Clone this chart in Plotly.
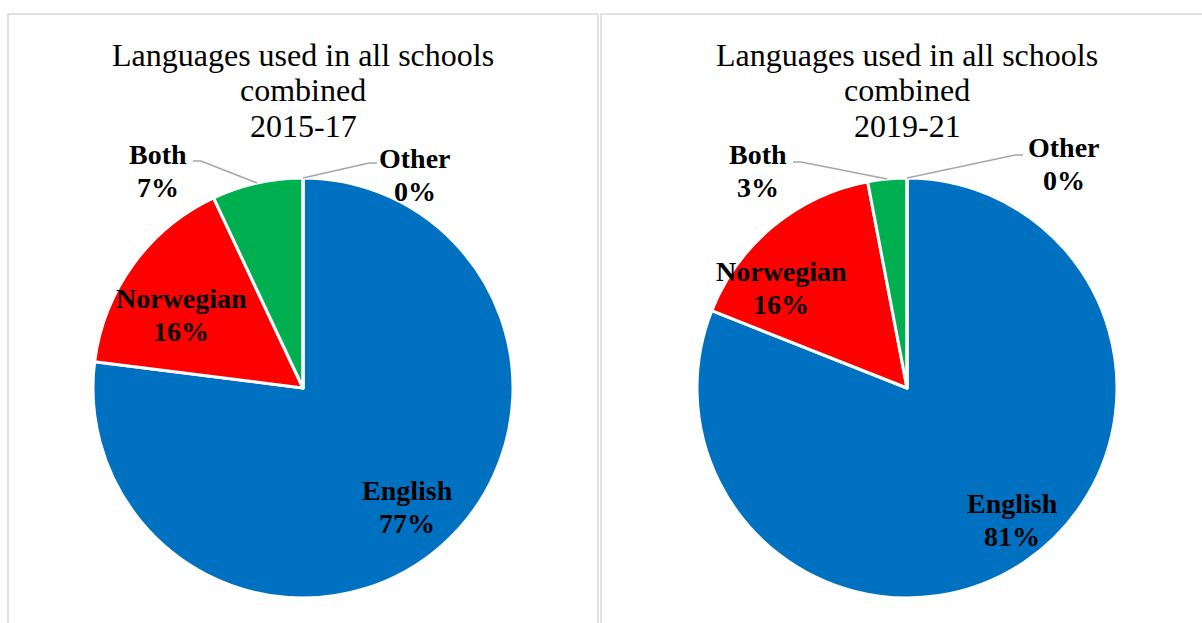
import math
import plotly.graph_objects as go

W, H = 1202, 623

# ---- data ----
labels = ["English", "Norwegian", "Both", "Other"]
values_2015 = [77, 16, 7, 0]
values_2019 = [81, 16, 3, 0]
colors = ["#0070C0", "#FF0000", "#00B050", "#A5A5A5"]
periods = ["2015-17", "2019-21"]
title_lines = ["Languages used in all schools", "combined"]


def px(x, y):
    return x / W, 1 - y / H


SERIF = "Liberation Serif, Times New Roman, serif"

# panel geometry (pixels)
panels = [
    dict(cx=303, cy=388, r=210, frame=(8, 598), tx=303),
    dict(cx=907, cy=388, r=210, frame=(601, 1215), tx=907),
]

# label positions (pixels), per panel, per slice
label_pos = [
    {"English": (407, 507), "Norwegian": (181, 315), "Both": (158, 171), "Other": (415, 175)},
    {"English": (1012, 520), "Norwegian": (781, 288), "Both": (758, 171), "Other": (1064, 164)},
]
# leader line text-side anchors (pixels)
leader_start = [
    {"Both": (193, 161, 1), "Other": (377, 163, -1)},
    {"Both": (793, 162, 1), "Other": (1023, 155, -1)},
]

fig = go.Figure()
shapes = []
annotations = []

for i, (vals, period) in enumerate(zip([values_2015, values_2019], periods)):
    p = panels[i]
    cx, cy, r = p["cx"], p["cy"], p["r"]
    x0, y1 = px(cx - r, cy - r)
    x1, y0 = px(cx + r, cy + r)
    fig.add_trace(go.Pie(
        labels=labels, values=vals, sort=False, direction="clockwise",
        rotation=0, marker=dict(colors=colors, line=dict(color="white", width=3)),
        textinfo="none", showlegend=False, domain=dict(x=[x0, x1], y=[y0, y1]),
    ))

    # frame
    fx0, fx1 = p["frame"]
    a, b = px(fx0, 14)
    c, d = px(fx1, 700)
    shapes.append(dict(type="rect", xref="paper", yref="paper", x0=a, x1=c, y0=d, y1=b,
                       line=dict(color="#D9D9D9", width=1.5), fillcolor="rgba(0,0,0,0)", layer="below"))

    # title
    for k, txt in enumerate(title_lines + [period]):
        tx, ty = px(p["tx"], 55 + 35.5 * k)
        annotations.append(dict(text=txt, x=tx, y=ty, xref="paper", yref="paper",
                                showarrow=False, xanchor="center", yanchor="middle",
                                font=dict(family=SERIF, size=32, color="black")))

    # slice labels
    total = sum(vals)
    cum = 0
    for lab, v in zip(labels, vals):
        mid = (cum + v / 2) / total * 2 * math.pi
        cum += v
        lx, ly = label_pos[i][lab]
        pct = f"{round(v / total * 100)}%"
        for k, txt in enumerate([lab, pct]):
            ax_, ay_ = px(lx, ly - 16.5 + 33 * k)
            annotations.append(dict(text=f"<b>{txt}</b>", x=ax_, y=ay_, xref="paper", yref="paper",
                                    showarrow=False, xanchor="center", yanchor="middle",
                                    font=dict(family=SERIF, size=28, color="black")))
        if lab in leader_start[i]:
            sx, sy, dirn = leader_start[i][lab]
            ex = cx + r * math.sin(mid)
            ey = cy - r * math.cos(mid)
            pts = [(sx, sy), (sx + 8 * dirn, sy), (ex, ey)]
            path = "M " + " L ".join(f"{px(x, y)[0]},{px(x, y)[1]}" for x, y in pts)
            shapes.append(dict(type="path", xref="paper", yref="paper", path=path,
                               line=dict(color="#A6A6A6", width=1.5)))

fig.update_layout(
    width=W, height=H, margin=dict(l=0, r=0, t=0, b=0),
    paper_bgcolor="white", plot_bgcolor="white",
    shapes=shapes, annotations=annotations,
)
fig.write_html("out.html")
